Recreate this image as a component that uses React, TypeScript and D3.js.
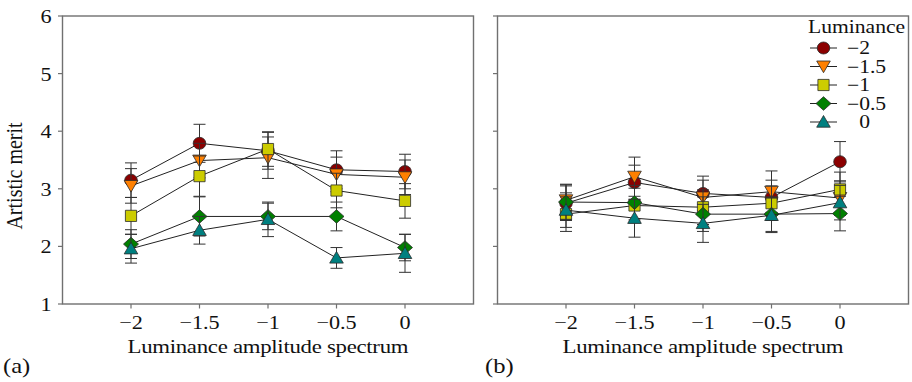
import React from "react";
import * as d3 from "d3";

const xValues = [-2, -1.5, -1, -0.5, 0];
const xTicks = ["−2", "−1.5", "−1", "−0.5", "0"];
const yTicks = [1, 2, 3, 4, 5, 6];
const seriesNames = ["−2", "−1.5", "−1", "−0.5", "0"];
const seriesColors = ["#8b0000", "#ff8000", "#cccc00", "#008000", "#008080"];
const seriesShapes = ["circle", "triDown", "square", "diamond", "triUp"];

// Panel (a)
const aMeans = [
  [3.15, 3.79, 3.66, 3.33, 3.3],
  [3.05, 3.49, 3.54, 3.25, 3.2],
  [2.53, 3.22, 3.69, 2.97, 2.79],
  [2.04, 2.52, 2.52, 2.52, 1.98],
  [1.96, 2.28, 2.47, 1.8, 1.88],
];
const aErrors = [
  [0.3, 0.33, 0.32, 0.33, 0.3],
  [0.3, 0.3, 0.36, 0.3, 0.3],
  [0.32, 0.35, 0.3, 0.3, 0.3],
  [0.25, 0.34, 0.23, 0.25, 0.23],
  [0.25, 0.24, 0.3, 0.18, 0.33],
];
// Panel (b)
const bMeans = [
  [2.75, 3.11, 2.92, 2.85, 3.47],
  [2.8, 3.21, 2.85, 2.95, 2.84],
  [2.56, 2.71, 2.68, 2.75, 2.99],
  [2.77, 2.76, 2.56, 2.56, 2.57],
  [2.63, 2.49, 2.4, 2.54, 2.76],
];
const bErrors = [
  [0.3, 0.3, 0.3, 0.3, 0.35],
  [0.28, 0.34, 0.3, 0.36, 0.3],
  [0.3, 0.3, 0.3, 0.3, 0.3],
  [0.3, 0.3, 0.3, 0.3, 0.3],
  [0.3, 0.33, 0.33, 0.3, 0.3],
];

const W = 912;
const H = 382;
const top = 16;
const bottom = 304;
const SX = 1.2;
const FONT = "'Liberation Serif', 'Times New Roman', serif";

const yScale = d3.scaleLinear().domain([1, 6]).range([bottom, top]);

function Marker({ shape, x, y, color }: { shape: string; x: number; y: number; color: string }) {
  const common = { fill: color, stroke: "#2a2a2a", strokeWidth: 0.8 };
  if (shape === "circle") return <ellipse cx={x} cy={y} rx={6.3} ry={6} {...common} />;
  let pts: number[][] = [];
  if (shape === "triDown") pts = [[-6.8, -5.5], [6.8, -5.5], [0, 6.2]];
  if (shape === "triUp") pts = [[0, -6.5], [6.8, 5.2], [-6.8, 5.2]];
  if (shape === "square") pts = [[-5.6, -5.6], [5.6, -5.6], [5.6, 5.6], [-5.6, 5.6]];
  if (shape === "diamond") pts = [[0, -6.8], [7.5, 0], [0, 6.8], [-7.5, 0]];
  return <polygon points={pts.map((p) => `${x + p[0]},${y + p[1]}`).join(" ")} {...common} />;
}

function SText({ x, y, children, size = 18, anchor = "start", extra = {} }: any) {
  return (
    <text
      transform={`translate(${x},${y}) scale(${SX},1)`}
      fontFamily={FONT}
      fontSize={size}
      textAnchor={anchor}
      fill="#111"
      {...extra}
    >
      {children}
    </text>
  );
}

function Panel({ x0, x1, means, errors, showY, label }: any) {
  const xScale = d3.scaleLinear().domain([-2.5, 0.5]).range([x0, x1]);
  const line = d3
    .line<number>()
    .x((_, i) => xScale(xValues[i]))
    .y((d) => yScale(d));
  return (
    <g>
      <rect x={x0} y={top} width={x1 - x0} height={bottom - top} fill="none" stroke="#707070" strokeWidth={1.4} />
      {yTicks.map((t) => (
        <g key={t}>
          <line x1={x0 - 4.5} x2={x0} y1={yScale(t)} y2={yScale(t)} stroke="#707070" strokeWidth={1.2} />
          {showY && (
            <SText x={x0 - 11} y={yScale(t) + 7} anchor="end" size={18.5}>
              {String(t)}
            </SText>
          )}
        </g>
      ))}
      {xValues.map((v, i) => (
        <g key={v}>
          <line x1={xScale(v)} x2={xScale(v)} y1={bottom} y2={bottom + 4.5} stroke="#707070" strokeWidth={1.2} />
          <SText x={xScale(v)} y={328.5} anchor="middle" size={18.5}>
            {xTicks[i]}
          </SText>
        </g>
      ))}
      {means.map((s: number[], si: number) => (
        <g key={si}>
          <path d={line(s) || ""} fill="none" stroke="#222" strokeWidth={1} />
          {s.map((m, i) => {
            const cx = xScale(xValues[i]);
            const e = errors[si][i];
            return (
              <g key={i} stroke="#333" strokeWidth={1}>
                <line x1={cx} x2={cx} y1={yScale(m + e)} y2={yScale(m - e)} />
                <line x1={cx - 6} x2={cx + 6} y1={yScale(m + e)} y2={yScale(m + e)} />
                <line x1={cx - 6} x2={cx + 6} y1={yScale(m - e)} y2={yScale(m - e)} />
              </g>
            );
          })}
          {s.map((m, i) => (
            <Marker key={"m" + i} shape={seriesShapes[si]} x={xScale(xValues[i])} y={yScale(m)} color={seriesColors[si]} />
          ))}
        </g>
      ))}
      <SText
        x={(x0 + x1) / 2}
        y={353}
        anchor="middle"
        size={19}
        extra={{ textLength: 281 / SX, lengthAdjust: "spacing" }}
      >
        Luminance amplitude spectrum
      </SText>
      <SText x={label === "(a)" ? 3 : 485} y={373} size={20.5}>
        {label}
      </SText>
    </g>
  );
}

export default function App() {
  const legendRows = [48, 66.5, 85, 103.5, 122];
  return (
    <svg width={W} height={H} style={{ position: "absolute", left: 0, top: 0, background: "#fff" }}>
      <rect width={W} height={H} fill="#fff" />
      <text
        transform={`translate(22,176) scale(${SX},1) rotate(-90)`}
        fontFamily={FONT}
        fontSize={20}
        textAnchor="middle"
        fill="#111"
      >
        Artistic merit
      </text>
      <Panel x0={62.5} x1={473.5} means={aMeans} errors={aErrors} showY={true} label="(a)" />
      <Panel x0={497.5} x1={908.5} means={bMeans} errors={bErrors} showY={false} label="(b)" />
      <g>
        <SText x={808} y={33} size={18}>
          Luminance
        </SText>
        {seriesNames.map((n, i) => (
          <g key={n}>
            <line x1={810} x2={837} y1={legendRows[i]} y2={legendRows[i]} stroke="#222" strokeWidth={1} />
            <Marker shape={seriesShapes[i]} x={823.5} y={legendRows[i]} color={seriesColors[i]} />
            <SText x={847} y={legendRows[i] + 6} size={18}>
              {n === "0" ? (
                <>
                  <tspan fillOpacity={0}>−</tspan>0
                </>
              ) : (
                n
              )}
            </SText>
          </g>
        ))}
      </g>
    </svg>
  );
}
